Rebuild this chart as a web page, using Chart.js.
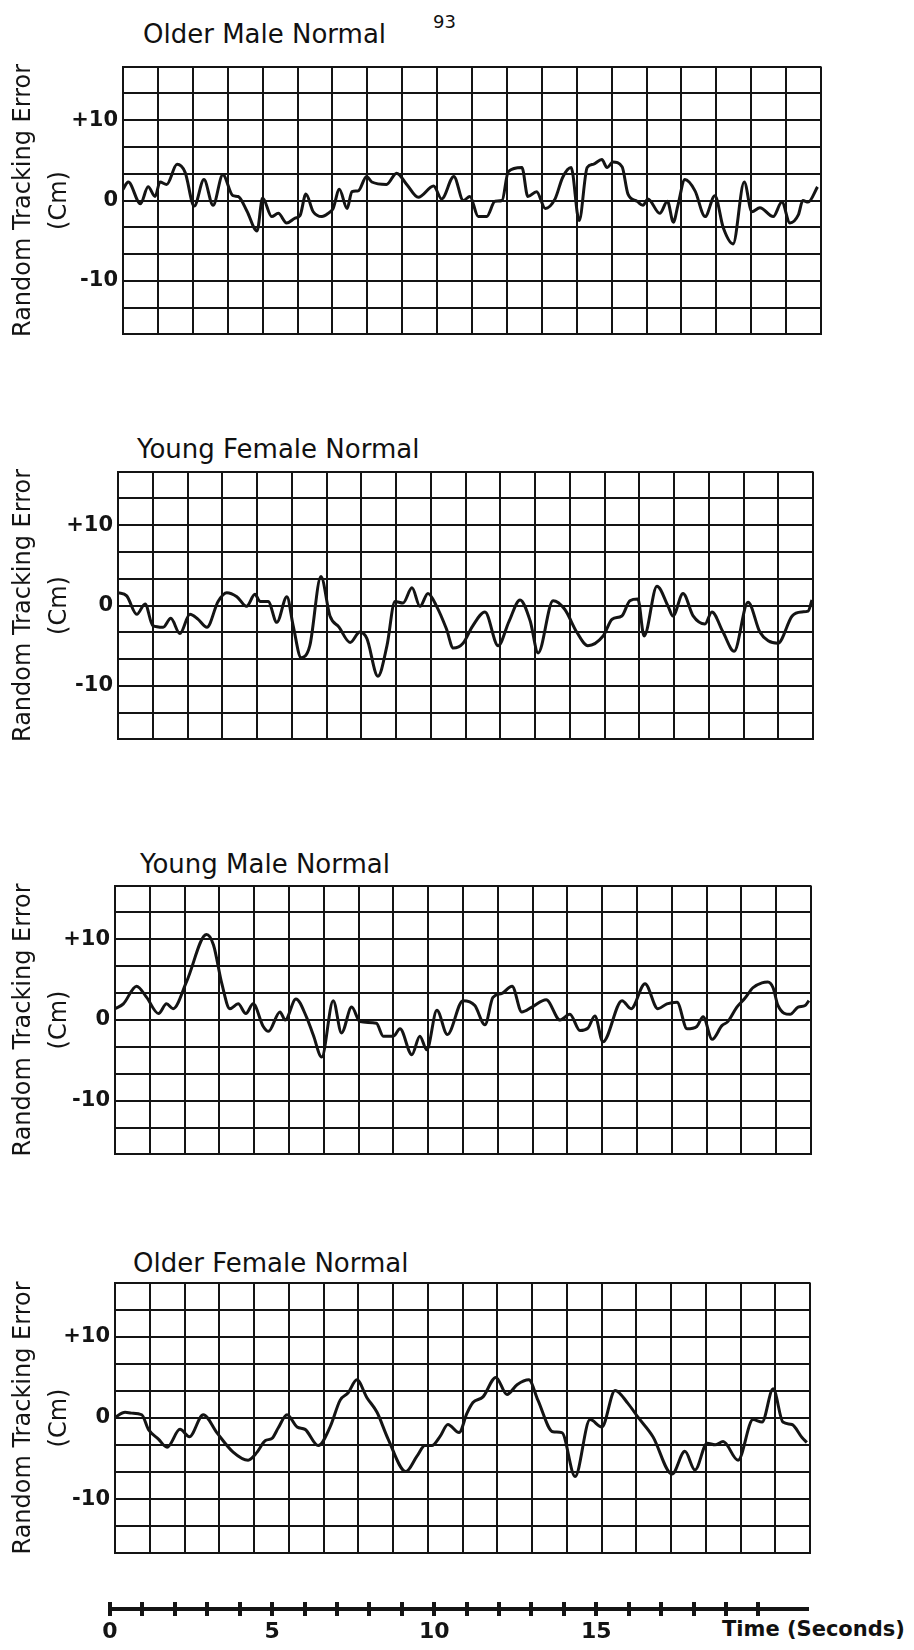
<!DOCTYPE html>
<html>
<head>
<meta charset="utf-8">
<script src="https://cdn.jsdelivr.net/npm/chart.js@4.4.1/dist/chart.umd.min.js"></script>
<style>
  body { margin: 0; background: #fff; width: 914px; height: 1650px; position: relative; overflow: hidden; font-family: "DejaVu Sans", sans-serif; color: #111; }
  canvas { position: absolute; left: 0; }
  .judul { position: absolute; font-size: 26px; line-height: 26px; white-space: nowrap; }
</style>
</head>
<body>
<div class="judul" style="left:433px;top:13px;font-size:18px;line-height:18px">93</div>
<div class="judul" style="left:143px;top:21px">Older Male Normal</div>
<div class="judul" style="left:137px;top:436px">Young Female Normal</div>
<div class="judul" style="left:140px;top:851px">Young Male Normal</div>
<div class="judul" style="left:133px;top:1250px">Older Female Normal</div>
<div class="judul" style="left:722px;top:1619px;font-size:21px;line-height:21px;font-weight:bold">Time (Seconds)</div>

<canvas id="panel1"></canvas>
<canvas id="panel2"></canvas>
<canvas id="panel3"></canvas>
<canvas id="panel4"></canvas>
<canvas id="timeAxis"></canvas>

<script>
// ---- data ----
// waktu (detik) dan error (cm) tiap panel
const olderMaleT = [0, 0.15, 0.5, 0.72, 0.92, 1.06, 1.25, 1.55, 1.78, 2.04, 2.32, 2.58, 2.86, 3.15, 3.3, 3.55, 3.84, 4.0, 4.26, 4.45, 4.69, 4.93, 5.07, 5.24, 5.45, 5.7, 5.88, 6.02, 6.2, 6.42, 6.56, 6.74, 6.98, 7.13, 7.55, 7.84, 8.13, 8.46, 8.9, 9.13, 9.48, 9.75, 9.94, 10.18, 10.42, 10.66, 10.86, 11.04, 11.43, 11.6, 11.85, 12.1, 12.38, 12.6, 12.84, 13.07, 13.3, 13.47, 13.72, 13.87, 14.04, 14.3, 14.47, 14.73, 14.9, 15.04, 15.38, 15.6, 15.77, 15.9, 16.1, 16.39, 16.68, 16.96, 17.2, 17.48, 17.8, 18.02, 18.25, 18.63, 18.88, 19.11, 19.35, 19.48, 19.63, 19.9];
const olderMaleV = [1.4, 2.3, -0.4, 1.7, 0.5, 2.3, 2.0, 4.5, 3.5, -0.7, 2.6, -0.6, 3.2, 0.6, 0.5, -1.3, -3.8, 0.3, -2.0, -1.6, -2.8, -2.2, -1.9, 0.8, -1.4, -2.0, -1.6, -1.0, 1.4, -1.0, 1.1, 1.2, 3.0, 2.3, 2.0, 3.4, 2.0, 0.4, 1.8, 0.2, 3.0, 0.0, 0.5, -2.0, -2.0, -0.1, 0.0, 3.6, 4.1, 0.5, 1.1, -1.0, 0.2, 2.9, 4.1, -2.5, 4.1, 4.5, 5.1, 4.1, 4.8, 4.2, 0.8, -0.1, -0.6, 0.2, -1.6, -0.1, -2.7, -0.6, 2.6, 1.2, -2.0, 0.6, -3.4, -5.4, 2.3, -1.4, -0.9, -2.0, -0.2, -2.8, -1.8, 0.0, -0.2, 1.7];

const youngFemaleT = [0, 0.25, 0.54, 0.78, 1.0, 1.3, 1.52, 1.78, 2.07, 2.3, 2.56, 2.88, 3.13, 3.42, 3.7, 3.94, 4.09, 4.32, 4.57, 4.86, 5.04, 5.27, 5.52, 5.84, 6.1, 6.36, 6.68, 6.96, 7.16, 7.48, 7.74, 7.97, 8.2, 8.46, 8.69, 8.92, 9.18, 9.45, 9.65, 9.93, 10.2, 10.56, 10.94, 11.25, 11.57, 11.86, 12.09, 12.52, 12.86, 13.2, 13.52, 13.96, 14.22, 14.5, 14.73, 14.96, 15.14, 15.51, 15.83, 15.97, 16.26, 16.55, 16.89, 17.09, 17.41, 17.73, 18.13, 18.47, 18.71, 18.99, 19.4, 19.68, 19.86, 19.97];
const youngFemaleV = [1.6, 1.2, -1.1, 0.2, -2.5, -2.7, -1.6, -3.5, -1.1, -1.7, -2.7, 0.5, 1.6, 1.1, -0.1, 1.4, 0.5, 0.5, -2.1, 1.1, -2.5, -6.5, -5.0, 3.6, -1.3, -2.7, -4.6, -3.3, -4.1, -8.8, -5.0, 0.5, 0.3, 2.2, -0.1, 1.5, -0.2, -2.9, -5.3, -4.7, -2.6, -0.8, -5.0, -2.0, 0.7, -1.9, -5.9, 0.6, -0.5, -3.3, -5.0, -3.8, -1.7, -1.3, 0.6, 0.8, -3.8, 2.4, -0.1, -1.3, 1.5, -1.3, -2.3, -0.8, -3.3, -5.7, 0.4, -3.3, -4.4, -4.7, -1.3, -0.8, -0.7, 0.7];

const youngMaleT = [0, 0.24, 0.62, 0.91, 1.25, 1.48, 1.67, 2.06, 2.63, 2.83, 3.07, 3.3, 3.54, 3.76, 3.97, 4.26, 4.41, 4.74, 4.89, 5.2, 5.5, 5.7, 5.94, 6.27, 6.51, 6.8, 7.04, 7.51, 7.71, 8.0, 8.19, 8.53, 8.76, 8.96, 9.25, 9.55, 10.0, 10.34, 10.63, 10.86, 11.12, 11.41, 11.69, 11.98, 12.39, 12.79, 13.07, 13.36, 13.59, 13.79, 14.02, 14.57, 14.83, 15.23, 15.6, 15.86, 16.15, 16.44, 16.72, 16.9, 17.16, 17.44, 17.61, 17.87, 18.1, 18.33, 18.59, 18.76, 18.91, 19.05, 19.4, 19.63, 19.83, 19.94];
const youngMaleV = [1.4, 2.0, 4.2, 2.8, 0.8, 2.0, 1.4, 4.8, 10.6, 9.3, 4.5, 1.4, 2.0, 0.8, 2.0, -0.8, -1.4, 1.0, 0.0, 2.6, 0.4, -1.9, -4.6, 2.4, -1.6, 1.6, -0.2, -0.4, -2.0, -2.0, -1.1, -4.3, -2.0, -3.7, 1.2, -1.8, 2.4, 1.8, -0.6, 2.8, 3.3, 4.2, 1.0, 1.6, 2.5, 0.0, 0.7, -1.3, -1.0, 0.5, -2.7, 2.4, 1.4, 4.5, 1.4, 2.0, 2.2, -1.1, -0.8, 0.4, -2.4, -0.7, -0.2, 1.6, 2.7, 4.0, 4.6, 4.7, 4.0, 1.8, 0.7, 1.6, 1.8, 2.4];

const olderFemaleT = [0, 0.29, 0.48, 0.77, 0.96, 1.25, 1.5, 1.87, 2.14, 2.54, 2.93, 3.4, 3.83, 4.09, 4.32, 4.52, 4.7, 4.95, 5.24, 5.47, 5.85, 6.19, 6.48, 6.71, 6.96, 7.25, 7.54, 7.86, 8.37, 8.69, 8.92, 9.12, 9.35, 9.58, 9.9, 10.13, 10.3, 10.59, 10.96, 11.28, 11.57, 11.91, 12.17, 12.6, 12.86, 13.24, 13.67, 14.01, 14.39, 14.76, 15.05, 15.48, 16.03, 16.4, 16.69, 17.04, 17.27, 17.5, 17.93, 18.36, 18.62, 18.94, 19.22, 19.48, 19.77, 19.91];
const olderFemaleV = [0.1, 0.7, 0.6, 0.4, -1.4, -2.6, -3.6, -1.4, -2.3, 0.4, -1.8, -4.2, -5.2, -4.2, -2.8, -2.5, -1.2, 0.4, -1.1, -1.4, -3.4, -1.1, 2.2, 3.1, 4.7, 2.5, 0.7, -2.6, -6.6, -4.7, -3.4, -3.4, -2.3, -0.8, -1.8, 0.6, 1.9, 2.6, 5.0, 2.9, 4.1, 4.7, 2.2, -1.7, -1.8, -7.2, -0.2, -1.1, 3.4, 1.8, 0.1, -2.3, -6.9, -4.1, -6.4, -3.1, -3.3, -2.9, -5.2, -0.2, -0.5, 3.6, -0.5, -0.8, -2.4, -3.0];

// label sumbu
const yTickValues = [10, 0, -10];
const yTickLabels = ["+10", "0", "-10"];
const yAxisTitle = ["Random Tracking Error", "(Cm)"];
const timeTicks = [0, 1, 2, 3, 4, 5, 6, 7, 8, 9, 10, 11, 12, 13, 14, 15, 16, 17, 18, 19, 20];
const timeTickLabels = ["0", "5", "10", "15"];
const timeLabelValues = [0, 5, 10, 15];

// garis grid: tiap baris = 10/3 cm, tiap kolom = 1 detik
const Y_GRID = [-5, -4, -3, -2, -1, 0, 1, 2, 3, 4, 5].map((k) => (k * 10) / 3);
const INK = "#141414";

// posisi tiap panel (kotak grid, dalam px halaman)
const panelBoxes = [
  { id: "panel1", left: 123, right: 821, top: 63, bottom: 338, t: olderMaleT, v: olderMaleV },
  { id: "panel2", left: 118, right: 813, top: 468, bottom: 743, t: youngFemaleT, v: youngFemaleV },
  { id: "panel3", left: 115, right: 811, top: 882, bottom: 1158, t: youngMaleT, v: youngMaleV },
  { id: "panel4", left: 115, right: 810, top: 1279, bottom: 1557, t: olderFemaleT, v: olderFemaleV },
];

function yLabel(value) {
  const i = yTickValues.findIndex((v) => Math.abs(v - value) < 0.01);
  return i >= 0 ? yTickLabels[i] : "";
}

function makePanel(box) {
  const pad = 14;
  const cv = document.getElementById(box.id);
  cv.width = 914;
  cv.height = box.bottom - box.top + pad * 2;
  cv.style.top = box.top - pad + "px";

  const points = box.t.map((t, i) => ({ x: t, y: box.v[i] }));

  return new Chart(cv, {
    type: "line",
    data: {
      datasets: [
        {
          data: points,
          borderColor: INK,
          borderWidth: 3,
          pointRadius: 0,
          cubicInterpolationMode: "monotone",
          fill: false,
        },
      ],
    },
    options: {
      responsive: false,
      animation: false,
      events: [],
      layout: { padding: { left: 0, right: 914 - box.right, top: pad, bottom: pad } },
      plugins: { legend: { display: false }, tooltip: { enabled: false } },
      scales: {
        x: {
          type: "linear",
          min: 0,
          max: 20,
          ticks: { display: false, stepSize: 1 },
          grid: { color: INK, lineWidth: 2, drawTicks: false },
          border: { color: INK, width: 2 },
          afterFit: (s) => { s.height = 0; },
        },
        y: {
          min: -50 / 3,
          max: 50 / 3,
          afterBuildTicks: (s) => { s.ticks = Y_GRID.map((v) => ({ value: v })); },
          ticks: {
            autoSkip: false,
            padding: 5,
            color: INK,
            font: { family: "DejaVu Sans", size: 21, weight: "bold" },
            callback: (value) => yLabel(value),
          },
          grid: { color: INK, lineWidth: 2, drawTicks: false },
          border: { color: INK, width: 2 },
          title: {
            display: true,
            text: yAxisTitle,
            color: INK,
            font: { family: "DejaVu Sans", size: 24, lineHeight: 1.5 },
            padding: { top: 6, bottom: 0 },
          },
          afterFit: (s) => { s.width = box.left; },
        },
      },
    },
  });
}

panelBoxes.forEach(makePanel);

// sumbu waktu di bawah
function makeTimeAxis() {
  const cv = document.getElementById("timeAxis");
  cv.width = 914;
  cv.height = 54;
  cv.style.top = "1596px";

  return new Chart(cv, {
    type: "line",
    data: { datasets: [] },
    options: {
      responsive: false,
      animation: false,
      events: [],
      layout: { padding: { left: 110, right: 107, top: 6, bottom: 0 } },
      plugins: { legend: { display: false }, tooltip: { enabled: false } },
      scales: {
        x: {
          type: "linear",
          min: 0,
          max: 21.5,
          afterBuildTicks: (s) => { s.ticks = timeTicks.map((v) => ({ value: v })); },
          ticks: {
            autoSkip: false,
            maxRotation: 0,
            padding: 3,
            color: INK,
            font: { family: "DejaVu Sans", size: 22, weight: "bold" },
            callback: (value) => {
              const i = timeLabelValues.indexOf(value);
              return i >= 0 ? timeTickLabels[i] : "";
            },
          },
          grid: { color: INK, lineWidth: 4, tickLength: 7 },
          border: { color: INK, width: 4 },
          afterFit: (s) => { s.height = 41; },
        },
        y: { display: false, min: 0, max: 1 },
      },
    },
  });
}

makeTimeAxis();
</script>
</body>
</html>
